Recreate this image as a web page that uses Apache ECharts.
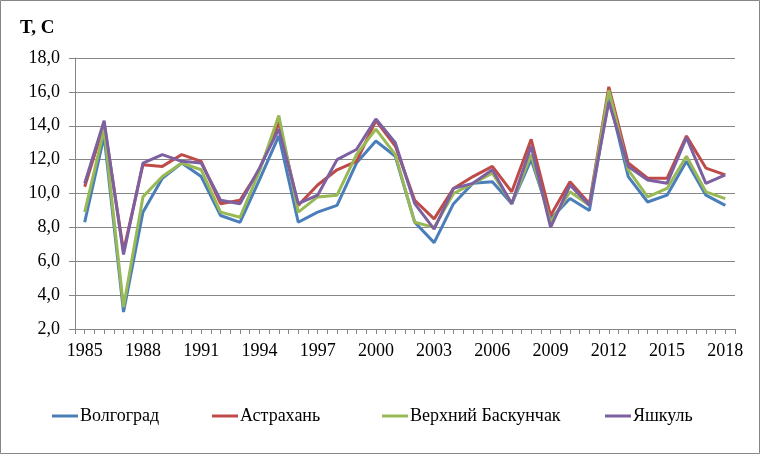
<!DOCTYPE html>
<html>
<head>
<meta charset="utf-8">
<script src="https://cdn.jsdelivr.net/npm/echarts@6/dist/echarts.min.js"></script>
<style>
  html, body { margin: 0; padding: 0; background: #fff; }
  #chart { width: 760px; height: 454px; }
</style>
</head>
<body>
<div id="chart"></div>
<script>
// Годы и температуры по станциям
let years = [];
for (let y = 1985; y <= 2018; y++) years.push(String(y));

let volgograd = [8.3, 13.4, 3.0, 8.9, 10.9, 11.8, 11.0, 8.7, 8.3, 10.8, 13.4,
    8.3, 8.9, 9.3, 11.8, 13.1, 12.2, 8.3, 7.1, 9.4, 10.6, 10.7, 9.4,
    12.0, 8.5, 9.7, 9.0, 15.7, 11.0, 9.5, 9.9, 11.9, 9.9, 9.3];
let astrakhan = [10.4, 14.1, 6.6, 11.7, 11.6, 12.3, 11.9, 9.4, 9.6, 11.4, 14.2,
    9.3, 10.5, 11.4, 11.9, 14.3, 12.8, 9.6, 8.5, 10.3, 11.0, 11.6, 10.1,
    13.2, 8.7, 10.7, 9.4, 16.3, 11.8, 10.9, 10.9, 13.4, 11.5, 11.1];
let baskunchak = [8.9, 13.8, 3.3, 9.8, 11.0, 11.8, 11.4, 8.9, 8.6, 11.3, 14.6,
    8.9, 9.8, 9.9, 12.3, 13.8, 12.3, 8.3, 8.0, 10.0, 10.6, 11.2, 9.4,
    12.3, 8.3, 10.1, 9.3, 16.1, 11.4, 9.8, 10.3, 12.2, 10.1, 9.7];
let yashkul = [10.6, 14.3, 6.4, 11.8, 12.3, 11.9, 11.8, 9.6, 9.4, 11.5, 13.8,
    9.4, 9.9, 12.0, 12.6, 14.4, 13.0, 9.4, 7.9, 10.3, 10.6, 11.4, 9.4,
    12.8, 8.0, 10.5, 9.3, 15.4, 11.6, 10.8, 10.6, 13.3, 10.6, 11.1];

let seriesNames = ['Волгоград', 'Астрахань', 'Верхний Баскунчак', 'Яшкуль'];
let seriesData = [volgograd, astrakhan, baskunchak, yashkul];
let colors = ['#4a7ebb', '#be4b48', '#98b954', '#7d60a0'];

let font = '"Liberation Serif", "Times New Roman", serif';
let gray = '#868686';

let chart = echarts.init(document.getElementById('chart'));

let legendLefts = [52, 212, 382, 605];

let option = {
    animation: false,
    color: colors,
    textStyle: { fontFamily: font },
    title: {
        text: 'T, C',
        left: 15,
        top: 14,
        textStyle: { fontFamily: font, fontSize: 19, fontWeight: 'bold', color: '#000' },
    },
    grid: { left: 75, right: 25, top: 58, bottom: 125 },
    legend: seriesNames.map(function (name, i) {
        return {
            data: [name],
            left: legendLefts[i],
            top: 407,
            padding: 0,
            icon: 'rect',
            itemWidth: 26,
            itemHeight: 3,
            itemGap: 3,
            textStyle: { fontFamily: font, fontSize: 18, color: '#000', padding: [0, 0, 0, -3] },
        };
    }),
    xAxis: [
        {
            type: 'category',
            data: years,
            boundaryGap: true,
            axisLine: { lineStyle: { color: gray, width: 1 } },
            axisTick: { show: true, interval: 0, length: 5, lineStyle: { color: gray } },
            axisLabel: { interval: 2, fontFamily: font, fontSize: 18, color: '#000', margin: 13 },
            splitLine: { show: false },
        },
        {
            type: 'category',
            data: years,
            position: 'bottom',
            boundaryGap: true,
            axisLine: { show: false },
            axisTick: { show: true, interval: 0, alignWithLabel: true, length: 5, lineStyle: { color: gray } },
            axisLabel: { show: false },
            splitLine: { show: false },
        },
    ],
    yAxis: {
        type: 'value',
        min: 2,
        max: 18,
        interval: 2,
        axisLine: { show: true, lineStyle: { color: gray, width: 1 } },
        axisTick: { show: true, length: 6, lineStyle: { color: gray } },
        axisLabel: {
            fontFamily: font,
            fontSize: 18,
            color: '#000',
            margin: 15,
            formatter: function (v) { return v.toFixed(1).replace('.', ','); },
        },
        splitLine: { lineStyle: { color: gray, width: 1 } },
    },
    series: seriesNames.map(function (name, i) {
        return {
            name: name,
            type: 'line',
            data: seriesData[i],
            showSymbol: false,
            symbol: 'none',
            lineStyle: { width: 3, color: colors[i] },
        };
    }),
    graphic: [
        {
            type: 'rect',
            shape: { x: 0.5, y: 0.5, width: 759, height: 453 },
            style: { fill: 'none', stroke: gray, lineWidth: 1 },
            silent: true,
        },
    ],
};

chart.setOption(option);

window.addEventListener('resize', function () {
    chart.resize();
});
</script>
</body>
</html>
